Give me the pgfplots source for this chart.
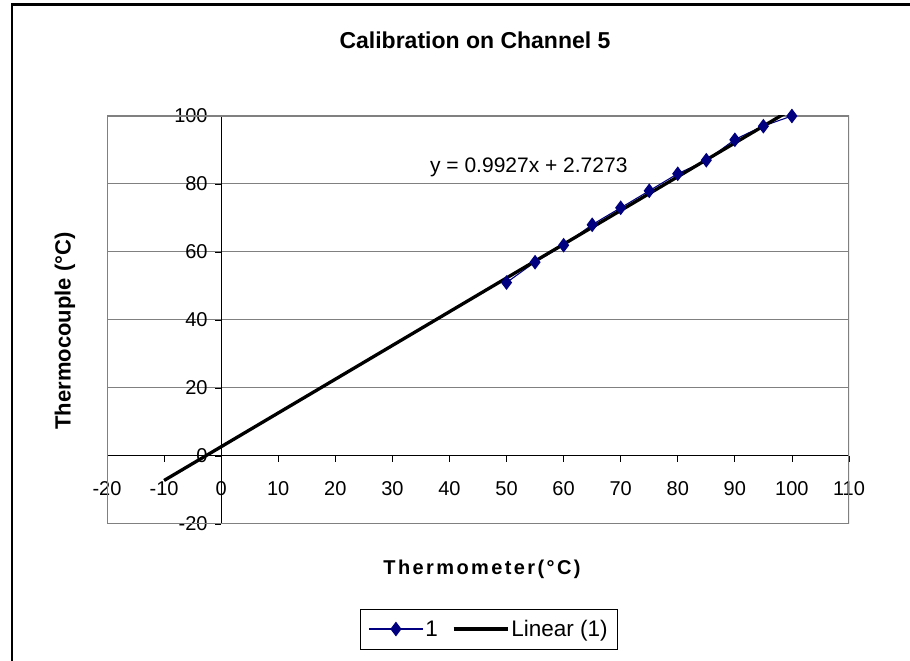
\documentclass[border=0pt]{standalone}
\usepackage{fontspec}
\setmainfont{Liberation Sans}
\usepackage{pgfplots}
\pgfplotsset{compat=1.18}
\definecolor{navyblue}{RGB}{0,0,128}
\definecolor{gridgray}{RGB}{128,128,128}
\begin{document}
\begin{tikzpicture}[x=1pt,y=1pt]
\path[use as bounding box] (0pt,0pt) rectangle (910pt,661pt);
% outer chart frame (left and top edges visible)
\draw[black, line width=2.5pt] (12pt,0pt) -- (12pt,656.5pt) -- (910pt,656.5pt);
% title
\node[font=\fontsize{23}{26}\selectfont\bfseries] at (475pt,621pt) {Calibration on Channel 5};
\begin{axis}[
  at={(107pt,137pt)}, anchor=south west,
  scale only axis, width=742pt, height=408pt,
  xmin=-20, xmax=110, ymin=-20, ymax=100,
  axis lines=middle,
  axis line style={-, black, line width=1pt},
  hide obscured x ticks=false, hide obscured y ticks=false,
  xtick={-20,-10,...,110}, ytick={-20,0,...,100},
  tick align=outside, major tick length=6pt,
  tick style={black, line width=0.8pt},
  ymajorgrids, grid style={gridgray, line width=1pt},
  /pgf/number format/assume math mode=true,
  tick label style={font=\fontsize{20}{22}\selectfont},
  xticklabel style={yshift=-16pt},
  yticklabel style={xshift=-4pt},
  legend style={at={(0.5148,-0.2574)}, anchor=center, draw=black, line width=0.8pt,
    font=\fontsize{22.5}{26}\selectfont, legend columns=2,
    /tikz/every even column/.append style={column sep=12pt},
    inner xsep=8pt, inner ysep=9pt},
  legend image code/.code={\draw[mark repeat=2,mark phase=2,#1] plot coordinates {(0pt,0pt) (27pt,0pt) (54pt,0pt)};},
  clip=true,
]
\draw[gridgray, line width=1.2pt] (rel axis cs:0,0) rectangle (rel axis cs:1,1);
\addplot[navyblue, line width=1.1pt, smooth, tension=0.3, mark=diamond*, mark size=6.5pt, mark options={fill=navyblue, draw=navyblue}]
coordinates {(50,51) (55,57) (60,62) (65,68) (70,73) (75,78) (80,83) (85,87) (90,93) (95,97) (100,100)};
\addlegendentry{1}
\addplot[black, line width=3.3pt] coordinates {(-10,-7.1997) (100,101.9973)};
\addlegendentry{Linear (1)}
\node[font=\fontsize{21}{24}\selectfont] at (axis cs:53.9,85.0) {y = 0.9927x + 2.7273};
\end{axis}
\node[font=\fontsize{20}{24}\selectfont\bfseries\addfontfeatures{LetterSpace=12}] at (482pt,92pt) {Thermometer(°C)};
\node[font=\fontsize{22}{24}\selectfont\bfseries, rotate=90] at (65pt,330pt) {Thermocouple (°C)};
\end{tikzpicture}
\end{document}
